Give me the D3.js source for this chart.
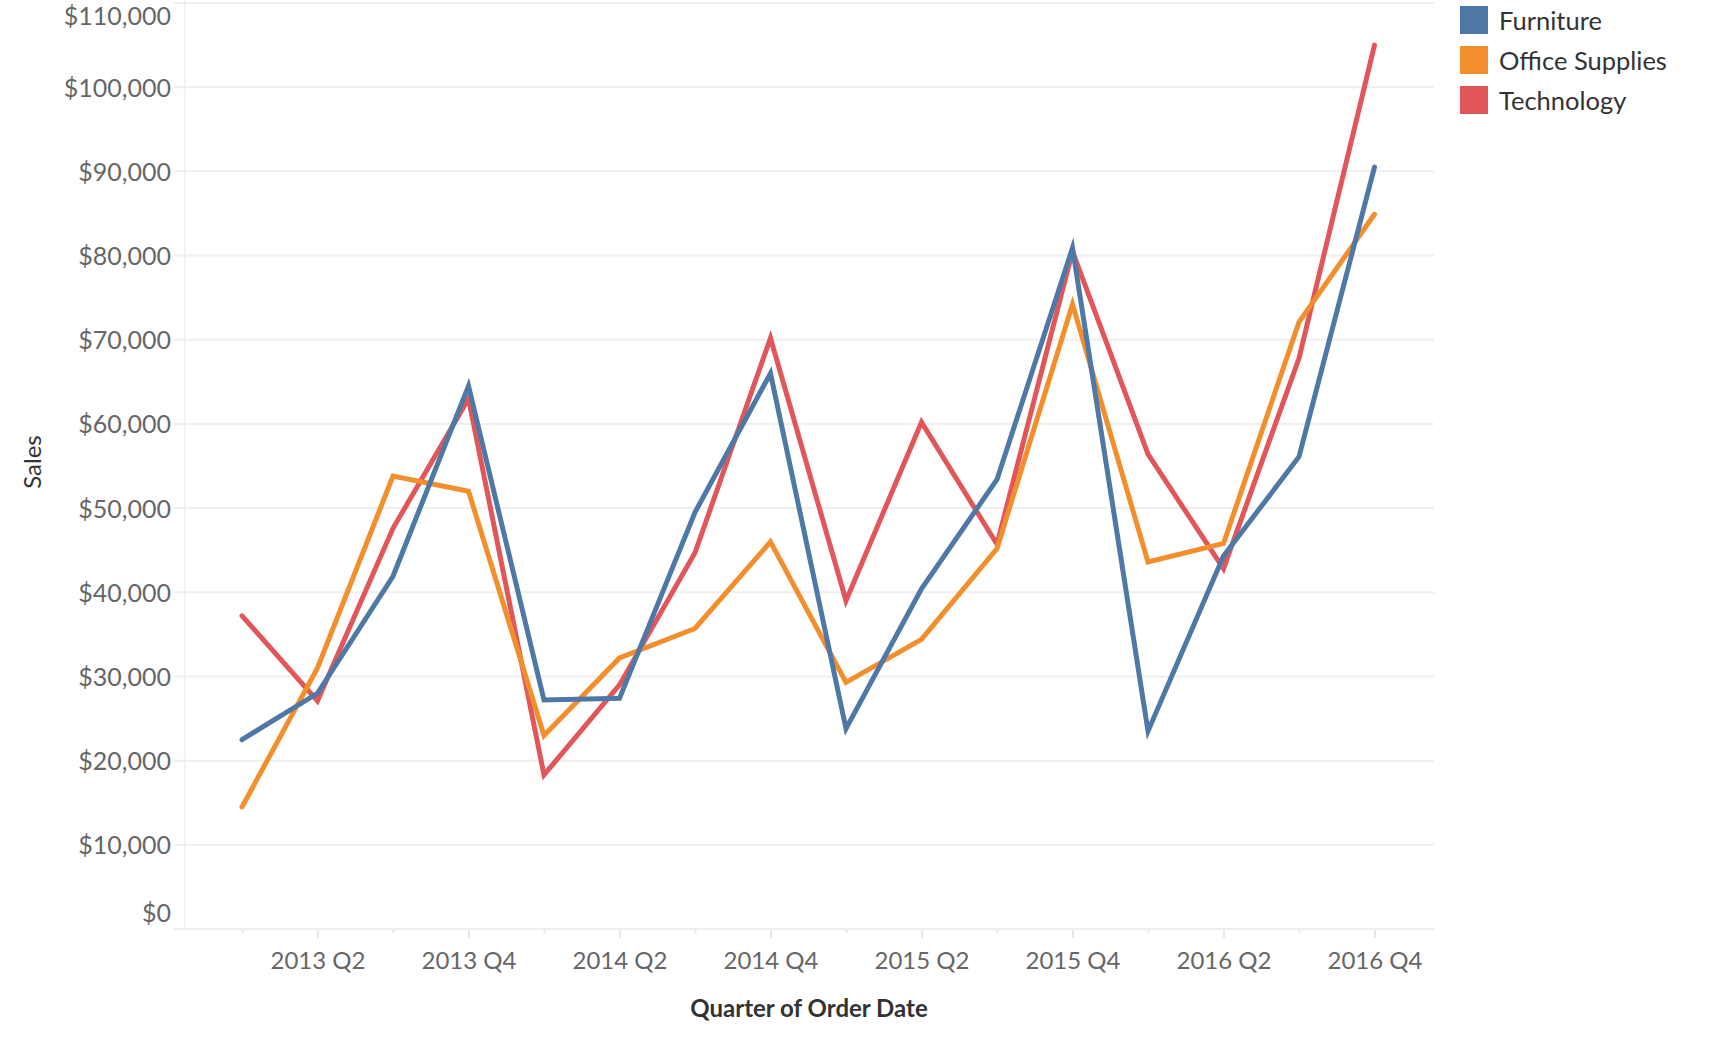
<!DOCTYPE html>
<html><head><meta charset="utf-8">
<script src="https://cdn.jsdelivr.net/npm/d3@7"></script>
<style>
html,body{margin:0;padding:0;background:#fff;}
svg{display:block;font-family:Lato,"Open Sans",sans-serif;}
</style></head>
<body>
<svg id="chart" width="1734" height="1040"></svg>
<script>
const quarters = ["2013 Q1","2013 Q2","2013 Q3","2013 Q4","2014 Q1","2014 Q2","2014 Q3","2014 Q4",
                  "2015 Q1","2015 Q2","2015 Q3","2015 Q4","2016 Q1","2016 Q2","2016 Q3","2016 Q4"];
const labeledQuarters = ["2013 Q2","2013 Q4","2014 Q2","2014 Q4","2015 Q2","2015 Q4","2016 Q2","2016 Q4"];
const categories = ["Furniture","Office Supplies","Technology"];
const colors = ["#4e79a7","#f28e2b","#e15759"];
const furniture = [22500,28000,41900,64500,27200,27400,49500,66000,23800,40400,53400,80900,23500,44300,56100,90500];
const officeSupplies = [14500,31000,53800,52000,23000,32200,35700,46000,29300,34400,45200,74200,43600,45800,72100,84900];
const technology = [37200,27100,47600,63000,18300,29000,44700,70200,39000,60200,45700,80500,56400,42800,67800,105000];
const yTicks = [0,10000,20000,30000,40000,50000,60000,70000,80000,90000,100000,110000];

const seriesValues = [furniture, officeSupplies, technology];

const svg = d3.select("#chart");
const x = d3.scalePoint().domain(quarters).range([242, 1374.5]);
const y = d3.scaleLinear().domain([0,110000]).range([929, 3]);
const fmt = v => "$" + d3.format(",")(v);

// gridlines
svg.append("g").selectAll("line").data(yTicks.filter(d=>d>0)).join("line")
  .attr("x1",174).attr("x2",1434).attr("y1",d=>y(d)).attr("y2",d=>y(d))
  .attr("stroke","#efefef").attr("stroke-width",2);
// left pane border
svg.append("line").attr("x1",184.5).attr("x2",184.5).attr("y1",0).attr("y2",929)
  .attr("stroke","#efefef").attr("stroke-width",1.5);
// x axis line
svg.append("line").attr("x1",174).attr("x2",1434).attr("y1",y(0)).attr("y2",y(0))
  .attr("stroke","#eeeeee").attr("stroke-width",2);

// x axis via d3
const xAxis = d3.axisBottom(x).tickSizeOuter(0)
  .tickSize(0).tickFormat(d => labeledQuarters.includes(d) ? d : "");
const gx = svg.append("g").attr("transform",`translate(0,${y(0)+1})`).call(xAxis);
gx.select(".domain").remove();
gx.selectAll(".tick").append("line")
  .attr("y1",0).attr("y2",d=>labeledQuarters.includes(d)?8:3)
  .attr("stroke","#e6e6e6").attr("stroke-width",2);
gx.selectAll(".tick text").attr("y",39).attr("dy",0)
  .attr("font-size",24).attr("fill","#666").attr("font-family","Lato");

// y axis via d3
const yAxis = d3.axisLeft(y).tickValues(yTicks).tickSize(0).tickFormat(fmt);
const gy = svg.append("g").attr("transform","translate(171,0)").call(yAxis);
gy.select(".domain").remove();
gy.selectAll(".tick text").attr("x",0).attr("dy",d=> d===110000 ? 21 : (d===0 ? -8 : 9))
  .attr("font-size",25).attr("fill","#666").attr("font-family","Lato")
  .attr("text-anchor","end");

// lines
const line = d3.line().x((d,i)=>x(quarters[i])).y(d=>y(d));
const order = [2,1,0];
svg.append("g").selectAll("path").data(order).join("path")
  .attr("d", k => line(seriesValues[k]))
  .attr("fill","none").attr("stroke", k => colors[k])
  .attr("stroke-width",5).attr("stroke-linejoin","miter").attr("stroke-miterlimit",10)
  .attr("stroke-linecap","round");

// axis titles
svg.append("text").attr("x",809).attr("y",1017).attr("text-anchor","middle")
  .attr("font-size",24).attr("font-weight","bold").attr("fill","#333").attr("font-family","Lato")
  .text("Quarter of Order Date");
svg.append("text").attr("transform","translate(41,462) rotate(-90)").attr("text-anchor","middle")
  .attr("font-size",24).attr("fill","#333").attr("font-family","Lato").text("Sales");

// legend
const lg = svg.append("g").selectAll("g").data(categories).join("g")
  .attr("transform",(d,i)=>`translate(1460,${6+i*40})`);
lg.append("rect").attr("width",28).attr("height",28).attr("fill",(d,i)=>colors[i]);
lg.append("text").attr("x",39).attr("y",24).attr("font-size",25.5).attr("fill","#333")
  .attr("font-family","Lato").text(d=>d);
</script>
</body></html>
